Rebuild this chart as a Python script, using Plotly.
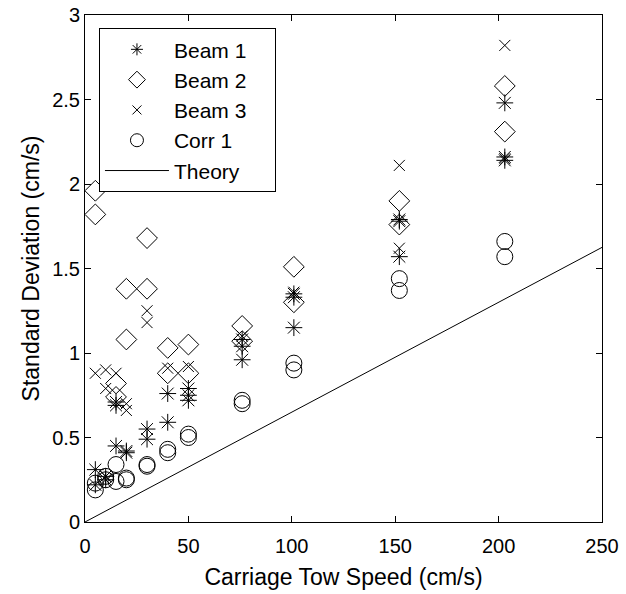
import plotly.graph_objects as go

# Beam 1 (asterisk)
beam1_x = [5, 5, 10, 10, 15, 15, 15, 20, 20, 30, 30, 40, 40, 50, 50, 50, 76, 76, 76, 101, 101, 101, 152, 152, 152, 203, 203, 203]
beam1_y = [0.31, 0.22, 0.27, 0.25, 0.45, 0.71, 0.69, 0.42, 0.41, 0.55, 0.49, 0.76, 0.59, 0.79, 0.75, 0.72, 1.08, 1.04, 0.96, 1.35, 1.33, 1.15, 1.79, 1.78, 1.57, 2.48, 2.16, 2.14]

# Beam 2 (diamond)
beam2_x = [5, 5, 15, 15, 20, 20, 30, 30, 40, 40, 50, 50, 76, 76, 101, 101, 152, 152, 203, 203]
beam2_y = [1.96, 1.82, 0.82, 0.74, 1.38, 1.08, 1.68, 1.38, 1.03, 0.88, 1.05, 0.88, 1.16, 1.07, 1.51, 1.30, 1.90, 1.76, 2.58, 2.31]

# Beam 3 (x)
beam3_x = [5, 10, 10, 10, 15, 20, 20, 30, 30, 40, 50, 76, 101, 152, 152, 203, 203]
beam3_y = [0.88, 0.90, 0.79, 0.27, 0.88, 0.70, 0.66, 1.25, 1.18, 0.91, 0.92, 1.10, 1.36, 2.11, 1.62, 2.82, 2.15]

# Corr 1 (circle)
corr1_x = [5, 5, 10, 10, 15, 15, 20, 20, 30, 30, 40, 40, 50, 50, 76, 76, 101, 101, 152, 152, 203, 203]
corr1_y = [0.23, 0.19, 0.27, 0.25, 0.34, 0.24, 0.26, 0.25, 0.34, 0.33, 0.43, 0.41, 0.52, 0.50, 0.72, 0.70, 0.94, 0.90, 1.44, 1.37, 1.66, 1.57]

# Theory
theory_x = [0, 250]
theory_y = [0.0, 1.625]

x_ticks = [0, 50, 100, 150, 200, 250]
y_ticks = [0, 0.5, 1, 1.5, 2, 2.5, 3]
y_tick_text = ["0", "0.5", "1", "1.5", "2", "2.5", "3"]

FONT = "Liberation Sans, Arial, sans-serif"
PAD = "\u00a0" * 4  # right padding inside the legend box

series = [
    ("Beam 1", beam1_x, beam1_y, "asterisk-open", 14, 10),
    ("Beam 2", beam2_x, beam2_y, "diamond-open", 16, 13),
    ("Beam 3", beam3_x, beam3_y, "x-thin-open", 11, 9),
    ("Corr 1", corr1_x, corr1_y, "circle-open", 16, 13),
]

fig = go.Figure()
for name, xs, ys, sym, size, lsize in series:
    fig.add_trace(go.Scatter(x=xs, y=ys, mode="markers", name=name, showlegend=False,
                             legendgroup=name,
                             marker=dict(symbol=sym, size=size, color="black",
                                         line=dict(color="black", width=1))))
    # legend entry (smaller symbol, as in the reference legend)
    fig.add_trace(go.Scatter(x=[None], y=[None], mode="markers", name=name + PAD,
                             legendgroup=name,
                             marker=dict(symbol=sym, size=lsize, color="black",
                                         line=dict(color="black", width=1))))
fig.add_trace(go.Scatter(x=theory_x, y=theory_y, mode="lines", name="Theory" + PAD,
                         line=dict(color="black", width=1)))

axis_common = dict(showline=True, linecolor="black", linewidth=1, mirror="ticks",
                   ticks="inside", ticklen=6, tickcolor="black", showgrid=False,
                   zeroline=False, automargin=False,
                   tickfont=dict(size=20, color="black", family=FONT))

fig.update_layout(
    width=626, height=594,
    margin=dict(l=85, r=24, t=15, b=72),
    paper_bgcolor="white", plot_bgcolor="white",
    font=dict(family=FONT, color="black", size=20),
    xaxis=dict(range=[0, 250], tickvals=x_ticks, ticklabelstandoff=6,
               title=dict(text="Carriage Tow Speed (cm/s)", font=dict(size=23), standoff=12),
               **axis_common),
    yaxis=dict(range=[0, 3], tickvals=y_ticks, ticktext=y_tick_text,
               title=dict(text="Standard Deviation (cm/s)", font=dict(size=23), standoff=6),
               **axis_common),
    legend=dict(x=0.027, y=0.974, xanchor="left", yanchor="top",
                bgcolor="white", bordercolor="black", borderwidth=1,
                font=dict(size=21, color="black", family=FONT),
                itemwidth=64, tracegroupgap=0),
    showlegend=True,
)

fig.write_html("out.html", config={"displayModeBar": False},
               post_script="document.body.style.margin='0';document.body.style.overflow='hidden';")
